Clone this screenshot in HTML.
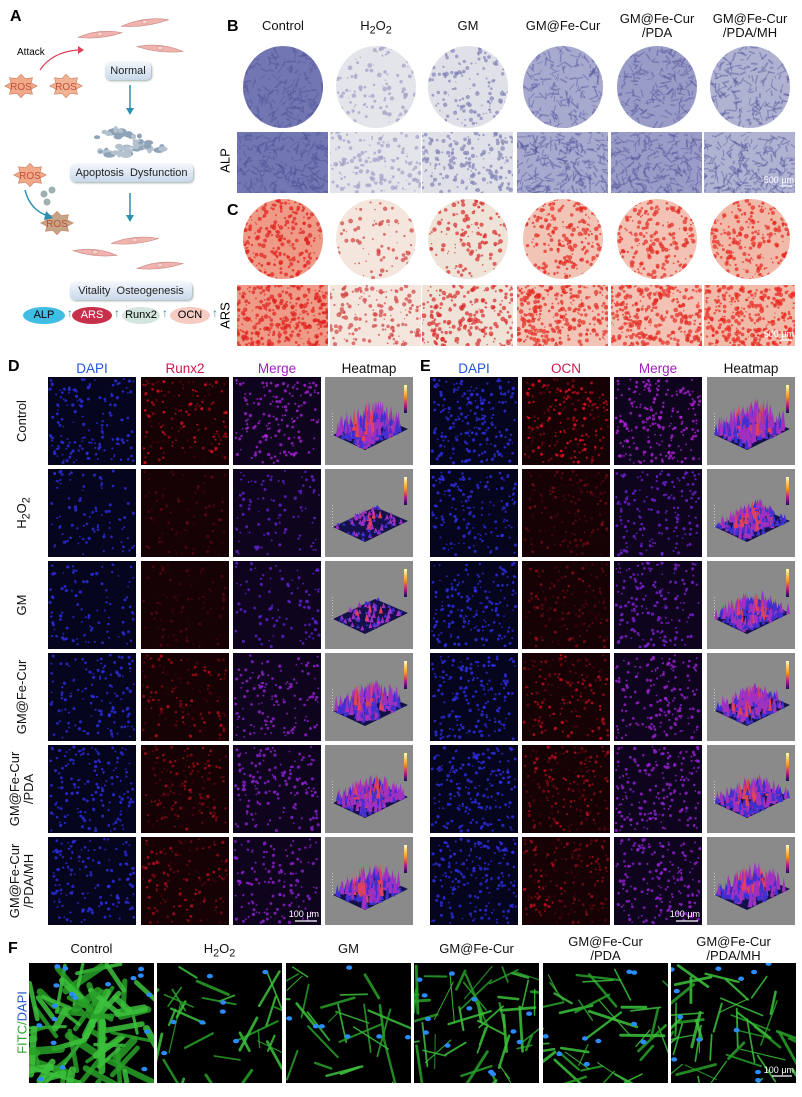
<!DOCTYPE html>
<html><head><meta charset="utf-8">
<style>
body{margin:0;background:#fff;}
#root{position:relative;width:802px;height:1097px;overflow:hidden;font-family:"Liberation Sans",Arial,sans-serif;background:#fff;}
.abs{position:absolute;}
.lt{position:absolute;font-weight:bold;font-size:16px;color:#000;}
.hd{position:absolute;font-size:13px;text-align:center;color:#111;line-height:14px;}
.rot{position:absolute;transform:rotate(-90deg);transform-origin:center;font-size:13px;white-space:nowrap;text-align:center;}
.box{position:absolute;border-radius:5px;background:linear-gradient(#f2f6fb,#c9d8ea);box-shadow:1px 1px 2px #9aa;font-size:11px;text-align:center;line-height:18px;color:#222;}
.ov{position:absolute;border-radius:50%;font-size:11px;text-align:center;line-height:16px;}
.ar{position:absolute;color:#2a8fb0;font-size:12px;font-weight:bold;}
svg{position:absolute;}
</style></head><body>
<div id="root">

<div class="lt" style="left:10px;top:8px">A</div>
<svg id="schem" style="left:0;top:0" width="230" height="330"></svg>
<div class="abs" style="left:17px;top:47px;font-size:10px">Attack</div>
<div class="box" style="left:105px;top:62px;width:46px;height:18px">Normal</div>
<div class="box" style="left:70px;top:164px;width:123px;height:18px">Apoptosis&nbsp; Dysfunction</div>
<div class="box" style="left:70px;top:282px;width:122px;height:18px">Vitality&nbsp; Osteogenesis</div>
<div class="ov" style="left:23px;top:307px;width:42px;height:17px;background:#3fbde3">ALP</div><div class="ar" style="left:67px;top:306px">↑</div>
<div class="ov" style="left:72px;top:307px;width:40px;height:17px;background:#c7304a;color:#fff">ARS</div><div class="ar" style="left:114px;top:306px">↑</div>
<div class="ov" style="left:122px;top:307px;width:38px;height:17px;background:#d3e6dd">Runx2</div><div class="ar" style="left:162px;top:306px">↑</div>
<div class="ov" style="left:170px;top:307px;width:40px;height:17px;background:#f6cbc2">OCN</div><div class="ar" style="left:212px;top:306px">↑</div>

<div class="lt" style="left:227px;top:18px">B</div>
<div class="lt" style="left:227px;top:202px">C</div>
<div class="rot" style="left:205px;top:153px;width:40px">ALP</div>
<div class="rot" style="left:205px;top:308px;width:40px">ARS</div>
<svg id="bc" style="left:0;top:0" width="802" height="350"></svg>

<div class="lt" style="left:8px;top:358px">D</div>
<div class="lt" style="left:420px;top:358px">E</div>
<svg id="de" style="left:0;top:370px" width="802" height="565"></svg>

<div class="lt" style="left:8px;top:940px">F</div>
<div class="rot" style="left:-13px;top:1015px;width:70px;color:#2fa52f">FITC/<span style="color:#2255cc">DAPI</span></div>
<svg id="ff" style="left:0;top:960px" width="802" height="125"></svg>
</div>

<script>
var seed=7;function R(){seed=(seed*16807)%2147483647;return (seed-1)/2147483646;}
var NS='http://www.w3.org/2000/svg';
function mk(p,t,a){var e=document.createElementNS(NS,t);for(var k in a)e.setAttribute(k,a[k]);p.appendChild(e);return e;}
var root=document.getElementById('root');
function txt(html,l,t,w,name,extra){var d=document.createElement('div');d.className='hd';d.style.left=l+'px';d.style.top=t+'px';d.style.width=w+'px';if(extra)d.style.cssText+=extra;d.innerHTML=html;


root.appendChild(d);return d;}

var S=document.getElementById('schem');
function cell(cx,cy,len,ang){var g=mk(S,'g',{transform:'translate('+cx+','+cy+') rotate('+ang+')'});
mk(g,'path',{d:'M'+(-len/2)+',0 Q0,-7 '+(len/2)+',0 Q0,5 '+(-len/2)+',0Z',fill:'#f0b3ad',stroke:'#c98a85','stroke-width':0.6});
mk(g,'ellipse',{cx:0,cy:-1,rx:3,ry:2,fill:'#f7d0cc',stroke:'#c98a85','stroke-width':0.5});}
cell(145,23,48,-8);cell(100,35,44,-6);cell(160,49,46,6);
cell(135,241,48,-6);cell(95,253,44,6);cell(160,266,46,-6);
function star(cx,cy,r,fill,label){var pts=[];for(var i=0;i<16;i++){var rr=i%2?r*0.68:r;var a=i*Math.PI/8;pts.push((cx+rr*Math.cos(a)*1.25)+','+(cy+rr*Math.sin(a)*0.9));}
mk(S,'polygon',{points:pts.join(' '),fill:fill,stroke:'#c87a5a','stroke-width':0.6});
var t=mk(S,'text',{x:cx,y:cy+4,'text-anchor':'middle','font-size':10,fill:'#c0503a','font-family':'Liberation Sans'});t.textContent=label;}
star(21,86,13,'#f2a98a','ROS');star(66,86,13,'#f2b394','ROS');star(30,175,13,'#f2a98a','ROS');star(57,223,13,'#c6a486','ROS');
mk(S,'path',{d:'M40,70 Q52,52 78,50',fill:'none',stroke:'#e0405a','stroke-width':1.2});
mk(S,'polygon',{points:'78,46 84,50 78,54',fill:'#e0405a'});
mk(S,'path',{d:'M25,190 Q30,210 48,216',fill:'none',stroke:'#2a8fb0','stroke-width':1.5});
mk(S,'polygon',{points:'46,211 53,218 44,220',fill:'#2a8fb0'});
[[44,194],[52,190],[47,202]].forEach(function(p){mk(S,'circle',{cx:p[0],cy:p[1],r:3.5,fill:'#9fb0b0'});});
[[130,85,115],[130,193,222]].forEach(function(a){mk(S,'line',{x1:a[0],y1:a[1],x2:a[0],y2:a[2]-6,stroke:'#2a8fb0','stroke-width':1.5});
mk(S,'polygon',{points:(a[0]-4)+','+(a[2]-7)+' '+(a[0]+4)+','+(a[2]-7)+' '+a[0]+','+a[2],fill:'#2a8fb0'});});
[[120,133,46],[115,150,30],[150,146,28]].forEach(function(b){for(var i=0;i<18;i++){mk(S,'ellipse',{cx:b[0]-b[2]/2+R()*b[2],cy:b[1]-5+R()*10,rx:2+R()*4,ry:1.5+R()*2,fill:R()>0.5?'#8fa3b8':'#b4c2d0'});}});

var groups=['Control','H<sub>2</sub>O<sub>2</sub>','GM','GM@Fe-Cur','GM@Fe-Cur<br>/PDA','GM@Fe-Cur<br>/PDA/MH'];
var bcx=[283,376,468,563,657,750];
groups.forEach(function(g,i){var two=g.indexOf('<br>')>0;txt(g,bcx[i]-48,two?12:19,96,'group-header-'+i);});
var B=document.getElementById('bc');
var alpBg=['#7276b2','#e4e4eb','#e0e0e8','#a7a9cf','#9a9cc8','#b0b2d2'];
var alpDot=['#4e5296','#a0a0c8','#8083b6','#50549a','#52569a','#52569a'];
var alpN=[200,110,150,200,200,190];
var arsBg=['#ef9a86','#f4e6dc','#efe2d6','#f1c4b6','#f3c2b4','#f1b9a8'];
var arsDot=['#e0201c','#d24040','#d82a2a','#e4281f','#e4281f','#e8261e'];
var arsN=[260,90,140,230,230,250];
var cidN=0;
function tex(p,x,y,w,h,bg,dot,n,isCirc,streak){
 var cid='cl'+(cidN++);
 var cp=mk(p,'clipPath',{id:cid});
 if(isCirc)mk(cp,'ellipse',{cx:x+w/2,cy:y+h/2,rx:w/2,ry:h/2});else mk(cp,'rect',{x:x,y:y,width:w,height:h});
 var g=mk(p,'g',{'clip-path':'url(#'+cid+')'});
 mk(g,'rect',{x:x,y:y,width:w,height:h,fill:bg});
 for(var i=0;i<n;i++){var px=x+R()*w,py=y+R()*h;
  if(streak){var a=R()*3.14,l=3+R()*7;mk(g,'line',{x1:px,y1:py,x2:px+l*Math.cos(a),y2:py+l*Math.sin(a),stroke:dot,'stroke-width':0.8+R()*1.2,opacity:0.45});}
  else mk(g,'circle',{cx:px,cy:py,r:0.6+R()*1.8,fill:dot,opacity:0.7});}
}
for(var i=0;i<6;i++){
 tex(B,bcx[i]-40,46,80,82,alpBg[i],alpDot[i],alpN[i],true,i==0||i>2);
 tex(B,bcx[i]-46,132,91,61,alpBg[i],alpDot[i],alpN[i]+40,false,i==0||i>2);
 tex(B,bcx[i]-40,199,80,80,arsBg[i],arsDot[i],arsN[i],true,false);
 tex(B,bcx[i]-46,285,91,61,arsBg[i],arsDot[i],arsN[i]+60,false,false);
}
[186,340].forEach(function(y){mk(B,'line',{x1:780,y1:y,x2:792,y2:y,stroke:'#fff','stroke-width':1.2});var t=mk(B,'text',{x:794,y:y-3,'text-anchor':'end','font-size':9,fill:'#fff','font-family':'Liberation Sans'});t.textContent='500 μm';});

var rowsLbl=['Control','H<sub>2</sub>O<sub>2</sub>','GM','GM@Fe-Cur','GM@Fe-Cur<br>/PDA','GM@Fe-Cur<br>/PDA/MH'];
var rowY=[377,469,561,653,745,837];
rowsLbl.forEach(function(l,i){var two=l.indexOf('<br>')>0;txt(l,-22,rowY[i]+44-(two?14:7),88,'row-label-'+i,'transform:rotate(-90deg);transform-origin:44px '+(two?14:7)+'px;');});
var colD=[48,141,233,325],colE=[430,522,614,707];
var hdD=[['DAPI','#2255dd'],['Runx2','#d0184a'],['Merge','#a020c0'],['Heatmap','#111']];
var hdE=[['DAPI','#2255dd'],['OCN','#d0184a'],['Merge','#a020c0'],['Heatmap','#111']];
for(var c=0;c<4;c++){txt(hdD[c][0],colD[c]-5,362,98,'d-col-header-'+c,'color:'+hdD[c][1]+';font-size:13.5px');txt(hdE[c][0],colE[c]-5,362,98,'e-col-header-'+c,'color:'+hdE[c][1]+';font-size:13.5px');}
var DE=document.getElementById('de');
var redD=[0.9,0.25,0.2,0.75,0.65,0.7],redE=[0.95,0.35,0.5,0.8,0.75,0.7];
var hD=[30,10,10,26,22,26],hE=[34,20,22,22,22,26];
var nucD=[150,90,95,130,150,140],nucE=[200,150,160,170,180,180];
function fluo(x,y,n,kind,red){
 var bgc=kind==0?'#05051e':kind==1?'#160204':'#0e041e';
 mk(DE,'rect',{x:x,y:y,width:88,height:88,fill:bgc});
 for(var i=0;i<n;i++){var px=x+2+R()*84,py=y+2+R()*84,r=0.8+R()*0.9;
  var col=kind==0?'#3030ee':kind==1?'rgb('+Math.round(140+90*red)+',15,35)':'rgb('+Math.round(80+130*red*0.8)+',35,220)';
  var op=kind==1?Math.min(1,0.2+red*0.7)*R()+0.08:0.75;
  mk(DE,'circle',{cx:px,cy:py,r:r,fill:col,opacity:op});}
}
function heat(x,y,h,dense){
 mk(DE,'rect',{x:x,y:y,width:88,height:88,fill:'#8a8a8a'});
 var g=mk(DE,'linearGradient',{id:'cb'+x+'_'+y,x1:0,y1:0,x2:0,y2:1});
 mk(g,'stop',{offset:'0','stop-color':'#fff8c0'});mk(g,'stop',{offset:'0.4','stop-color':'#f0a020'});mk(g,'stop',{offset:'0.7','stop-color':'#c02080'});mk(g,'stop',{offset:'1','stop-color':'#1a0a60'});
 mk(DE,'rect',{x:x+79,y:y+8,width:3,height:28,fill:'url(#cb'+x+'_'+y+')'});
 for(var k=0;k<8;k++)mk(DE,'rect',{x:x+7,y:y+36+k*3,width:1,height:1,fill:'#ccc'});
 var L=[x+8,y+58],Bt=[x+40,y+73],Rt=[x+83,y+52],T=[x+50,y+38];
 mk(DE,'polygon',{points:L+' '+Bt+' '+Rt+' '+T,fill:'#14104a'});
 for(var i=0;i<dense;i++){var u=R(),v=R();
  var px=L[0]+(T[0]-L[0])*u+(Bt[0]-L[0])*v,py=L[1]+(T[1]-L[1])*u+(Bt[1]-L[1])*v;
  var hh=h*(0.2+R()*0.8)*(0.6+0.4*Math.sin(u*3.1)*Math.sin(v*3.1));
  var col=hh>h*0.75?'#e0405a':hh>h*0.45?'#a030c0':'#4030d0';
  mk(DE,'polygon',{points:(px-2)+','+py+' '+px+','+(py-hh)+' '+(px+2)+','+py,fill:col});}
}
for(var r=0;r<6;r++){
 var yy=rowY[r]-370;
 for(var c=0;c<3;c++){fluo(colD[c],yy,nucD[r],c,redD[r]);fluo(colE[c],yy,nucE[r],c,redE[r]);}
 heat(colD[3],yy,hD[r],hD[r]>15?180:70);heat(colE[3],yy,hE[r],180);
}
[[colD[2]+62],[colE[2]+62]].forEach(function(a){mk(DE,'line',{x1:a[0],y1:rowY[5]-370+84,x2:a[0]+22,y2:rowY[5]-370+84,stroke:'#fff','stroke-width':1.2});var t=mk(DE,'text',{x:a[0]+24,y:rowY[5]-370+80,'text-anchor':'end','font-size':9,fill:'#fff','font-family':'Liberation Sans'});t.textContent='100 μm';});

var fx=[29,157,286,414,543,671];
var fNames=['Control','H<sub>2</sub>O<sub>2</sub>','GM','GM@Fe-Cur','GM@Fe-Cur<br>/PDA','GM@Fe-Cur<br>/PDA/MH'];
fNames.forEach(function(g,i){var two=g.indexOf('<br>')>0;txt(g,fx[i]-5,two?935:942,135,'f-header-'+i);});
var F=document.getElementById('ff');
var fDen=[70,30,26,50,38,46];
for(var i=0;i<6;i++){
 var x=fx[i];mk(F,'rect',{x:x,y:3,width:125,height:120,fill:'#000'});
 var cp=mk(F,'clipPath',{id:'fc'+i});mk(cp,'rect',{x:x,y:3,width:125,height:120});
 var g=mk(F,'g',{'clip-path':'url(#fc'+i+')'});
 for(var k=0;k<fDen[i];k++){var px=x+R()*125,py=3+R()*120,a=R()*3.14,l=15+R()*35;
  mk(g,'line',{x1:px,y1:py,x2:px+l*Math.cos(a),y2:py+l*Math.sin(a),stroke:R()>0.5?'#3cc23c':'#28a028','stroke-width':(i==0?3:1)+R()*(i==0?5:2),'stroke-linecap':'round',opacity:0.85});}
 for(var k=0;k<fDen[i]/4;k++)mk(g,'ellipse',{cx:x+R()*125,cy:3+R()*120,rx:3,ry:2.2,fill:'#2a8cff'});
}
mk(F,'line',{x1:772,y1:116,x2:792,y2:116,stroke:'#fff','stroke-width':1.2});
var t=mk(F,'text',{x:794,y:113,'text-anchor':'end','font-size':9,fill:'#fff','font-family':'Liberation Sans'});t.textContent='100 μm';
</script>
</body></html>
